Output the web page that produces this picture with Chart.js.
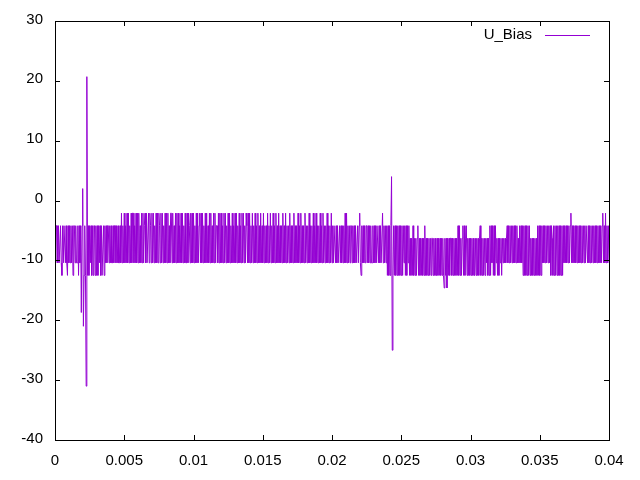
<!DOCTYPE html>
<html>
<head>
<meta charset="utf-8">
<script src="https://cdn.jsdelivr.net/npm/chart.js@4"></script>
<style>
  html, body { margin: 0; padding: 0; background: #fff; }
  #wrap { width: 640px; height: 480px; }
</style>
</head>
<body>
<div id="wrap"><canvas id="chart" width="640" height="480"></canvas></div>
<script>
// sample period of the trace (s)
const dt = 0.00005;
const xTicks = [0, 0.005, 0.01, 0.015, 0.02, 0.025, 0.03, 0.035, 0.04];
const yTicks = [-40, -30, -20, -10, 0, 10, 20, 30];
const seriesLabel = 'U_Bias';
const seriesColor = '#9400d3';

// U_Bias values, 20 samples (= 1 ms) per row
const uBias = [
  -4.2,-10.4,-4.2,-4.2,-10.4,-4.2,-10.4,-10.4,-4.2,-10.4,-12.5,-4.2,-10.4,-4.2,-4.2,-10.4,-4.2,-10.4,-12.5,-4.2,
  -10.4,-4.2,-10.4,-4.2,-10.4,-4.2,-12.5,-4.2,-4.2,-10.4,-4.2,-10.4,-10.4,-4.2,-12.5,-4.2,-10.4,-4.2,-18.7,-4.2,
  2.0,-21.0,-12.5,-4.2,-12.5,-31.0,20.7,-12.5,-4.2,-12.5,-4.2,-10.4,-4.2,-12.5,-4.2,-12.5,-4.2,-4.2,-12.5,-4.2,
  -12.5,-4.2,-12.5,-4.2,-10.4,-4.2,-12.5,-4.2,-12.5,-12.5,-4.2,-12.5,-4.2,-10.4,-4.2,-10.4,-4.2,-4.2,-10.4,-4.2,
  -10.4,-4.2,-10.4,-10.4,-4.2,-10.4,-4.2,-4.2,-10.4,-4.2,-10.4,-4.2,-10.4,-10.4,-4.2,-10.4,-2.1,-10.4,-4.2,-10.4,
  // 0.005 s
  -2.1,-10.4,-4.2,-10.4,-2.1,-10.4,-2.1,-10.4,-4.2,-10.4,-2.1,-10.4,-2.1,-2.1,-10.4,-4.2,-10.4,-2.1,-10.4,-2.1,
  -10.4,-2.1,-10.4,-4.2,-10.4,-2.1,-10.4,-2.1,-10.4,-4.2,-2.1,-10.4,-2.1,-10.4,-10.4,-2.1,-10.4,-2.1,-4.2,-10.4,
  -2.1,-10.4,-2.1,-10.4,-4.2,-10.4,-2.1,-10.4,-2.1,-10.4,-2.1,-4.2,-10.4,-2.1,-10.4,-2.1,-10.4,-4.2,-10.4,-2.1,
  -10.4,-2.1,-10.4,-2.1,-10.4,-4.2,-10.4,-2.1,-2.1,-10.4,-2.1,-10.4,-4.2,-10.4,-2.1,-10.4,-2.1,-10.4,-2.1,-10.4,
  -4.2,-10.4,-2.1,-10.4,-2.1,-10.4,-4.2,-10.4,-2.1,-10.4,-10.4,-2.1,-10.4,-2.1,-4.2,-10.4,-2.1,-10.4,-2.1,-10.4,
  // 0.010 s
  -2.1,-10.4,-4.2,-10.4,-2.1,-10.4,-2.1,-10.4,-4.2,-2.1,-10.4,-2.1,-10.4,-2.1,-10.4,-4.2,-10.4,-2.1,-10.4,-2.1,
  -10.4,-4.2,-10.4,-2.1,-10.4,-2.1,-10.4,-4.2,-10.4,-2.1,-10.4,-2.1,-10.4,-4.2,-4.2,-10.4,-2.1,-10.4,-2.1,-10.4,
  -2.1,-10.4,-4.2,-10.4,-2.1,-10.4,-2.1,-10.4,-4.2,-10.4,-2.1,-10.4,-2.1,-10.4,-4.2,-10.4,-2.1,-10.4,-4.2,-10.4,
  -2.1,-10.4,-2.1,-10.4,-4.2,-10.4,-2.1,-10.4,-4.2,-10.4,-2.1,-10.4,-2.1,-10.4,-4.2,-10.4,-2.1,-4.2,-10.4,-2.1,
  -10.4,-2.1,-10.4,-4.2,-10.4,-2.1,-10.4,-4.2,-10.4,-2.1,-10.4,-4.2,-10.4,-2.1,-10.4,-4.2,-10.4,-2.1,-10.4,-4.2,
  // 0.015 s
  -10.4,-2.1,-10.4,-4.2,-10.4,-4.2,-10.4,-2.1,-10.4,-4.2,-10.4,-2.1,-10.4,-4.2,-10.4,-2.1,-10.4,-4.2,-10.4,-2.1,
  -10.4,-4.2,-10.4,-2.1,-10.4,-4.2,-10.4,-4.2,-10.4,-2.1,-10.4,-4.2,-10.4,-2.1,-10.4,-4.2,-10.4,-4.2,-10.4,-2.1,
  -10.4,-4.2,-10.4,-4.2,-10.4,-2.1,-10.4,-4.2,-10.4,-4.2,-10.4,-2.1,-10.4,-4.2,-10.4,-2.1,-10.4,-4.2,-10.4,-4.2,
  -10.4,-2.1,-10.4,-4.2,-10.4,-4.2,-10.4,-2.1,-10.4,-4.2,-10.4,-4.2,-10.4,-2.1,-10.4,-4.2,-10.4,-2.1,-10.4,-4.2,
  -10.4,-4.2,-10.4,-2.1,-10.4,-4.2,-10.4,-2.1,-10.4,-4.2,-10.4,-4.2,-10.4,-2.1,-10.4,-4.2,-10.4,-4.2,-10.4,-2.1,
  // 0.020 s
  -10.4,-4.2,-10.4,-4.2,-4.2,-10.4,-4.2,-10.4,-4.2,-10.4,-10.4,-4.2,-10.4,-4.2,-10.4,-4.2,-10.4,-4.2,-10.4,-2.1,
  -10.4,-2.1,-10.4,-4.2,-10.4,-4.2,-10.4,-4.2,-4.2,-10.4,-4.2,-10.4,-4.2,-10.4,-4.2,-10.4,-10.4,-4.2,-10.4,-4.2,
  -2.1,-10.4,-12.5,-4.2,-10.4,-4.2,-10.4,-4.2,-10.4,-4.2,-4.2,-10.4,-4.2,-10.4,-4.2,-10.4,-4.2,-10.4,-10.4,-4.2,
  -10.4,-4.2,-10.4,-4.2,-10.4,-4.2,-4.2,-10.4,-4.2,-10.4,-4.2,-10.4,-10.4,-2.1,-10.4,-4.2,-10.4,-4.2,-10.4,-4.2,
  -12.5,-4.2,-12.5,-4.2,-12.5,-4.2,4.0,-25.0,-12.5,-4.2,-12.5,-4.2,-12.5,-4.2,-12.5,-4.2,-12.5,-4.2,-12.5,-4.2,
  // 0.025 s
  -12.5,-4.2,-12.5,-4.2,-10.4,-4.2,-12.5,-4.2,-12.5,-4.2,-10.4,-4.2,-12.5,-6.3,-12.5,-6.3,-12.5,-4.2,-12.5,-6.3,
  -12.5,-6.3,-12.5,-6.3,-4.2,-12.5,-6.3,-12.5,-6.3,-12.5,-6.3,-12.5,-6.3,-12.5,-4.2,-12.5,-6.3,-12.5,-6.3,-12.5,
  -6.3,-12.5,-6.3,-12.5,-6.3,-6.3,-12.5,-6.3,-12.5,-6.3,-12.5,-12.5,-6.3,-12.5,-6.3,-12.5,-6.3,-12.5,-6.3,-12.5,
  -6.3,-12.5,-14.6,-6.3,-12.5,-6.3,-14.6,-6.3,-12.5,-6.3,-12.5,-6.3,-6.3,-12.5,-6.3,-12.5,-6.3,-12.5,-6.3,-12.5,
  -6.3,-12.5,-4.2,-12.5,-4.2,-12.5,-6.3,-12.5,-6.3,-4.2,-12.5,-4.2,-12.5,-6.3,-4.2,-12.5,-6.3,-12.5,-6.3,-12.5,
  // 0.030 s
  -6.3,-12.5,-6.3,-12.5,-6.3,-12.5,-12.5,-6.3,-12.5,-6.3,-12.5,-6.3,-12.5,-6.3,-4.2,-12.5,-6.3,-12.5,-6.3,-12.5,
  -6.3,-12.5,-6.3,-10.4,-6.3,-12.5,-6.3,-12.5,-4.2,-12.5,-4.2,-10.4,-4.2,-12.5,-4.2,-12.5,-4.2,-10.4,-6.3,-12.5,
  -6.3,-12.5,-6.3,-10.4,-6.3,-12.5,-6.3,-10.4,-6.3,-10.4,-6.3,-10.4,-6.3,-4.2,-10.4,-4.2,-10.4,-4.2,-10.4,-4.2,
  -10.4,-4.2,-10.4,-4.2,-10.4,-4.2,-10.4,-4.2,-10.4,-6.3,-10.4,-4.2,-10.4,-4.2,-10.4,-4.2,-12.5,-4.2,-12.5,-4.2,
  -12.5,-4.2,-12.5,-4.2,-12.5,-4.2,-12.5,-6.3,-12.5,-6.3,-12.5,-6.3,-12.5,-6.3,-12.5,-6.3,-12.5,-4.2,-12.5,-4.2,
  // 0.035 s
  -12.5,-4.2,-12.5,-4.2,-10.4,-4.2,-10.4,-4.2,-10.4,-4.2,-10.4,-4.2,-10.4,-4.2,-10.4,-4.2,-12.5,-4.2,-6.3,-12.5,
  -4.2,-12.5,-4.2,-12.5,-4.2,-12.5,-4.2,-12.5,-4.2,-12.5,-4.2,-12.5,-4.2,-12.5,-4.2,-10.4,-4.2,-10.4,-4.2,-10.4,
  -4.2,-10.4,-4.2,-10.4,-4.2,-2.1,-10.4,-4.2,-10.4,-4.2,-10.4,-4.2,-10.4,-4.2,-10.4,-4.2,-10.4,-4.2,-10.4,-4.2,
  -10.4,-4.2,-10.4,-4.2,-10.4,-4.2,-10.4,-4.2,-4.2,-10.4,-4.2,-10.4,-4.2,-10.4,-4.2,-10.4,-4.2,-10.4,-4.2,-10.4,
  -4.2,-10.4,-4.2,-10.4,-4.2,-10.4,-4.2,-10.4,-4.2,-10.4,-4.2,-2.1,-10.4,-4.2,-10.4,-2.1,-10.4,-4.2,-10.4,-4.2,
  -10.4
];

const points = uBias.map((v, i) => ({ x: i * dt, y: v }));
const fontFamily = '"Liberation Sans", Arial, sans-serif';
const fontSize = 15;

// gnuplot-like frame: full border box, inward ticks mirrored on all sides, key inside top right
const gnuFrame = {
  id: 'gnuFrame',
  afterDatasetsDraw(chart) {
    const { ctx, chartArea: a, scales } = chart;
    const tl = 5;
    ctx.save();
    ctx.strokeStyle = '#000';
    ctx.lineWidth = 1;
    ctx.beginPath();
    xTicks.forEach(v => {
      const px = Math.round(scales.x.getPixelForValue(v)) + 0.5;
      ctx.moveTo(px, a.bottom); ctx.lineTo(px, a.bottom - tl);
      ctx.moveTo(px, a.top); ctx.lineTo(px, a.top + tl);
    });
    yTicks.forEach(v => {
      const py = Math.round(scales.y.getPixelForValue(v)) + 0.5;
      ctx.moveTo(a.left, py); ctx.lineTo(a.left + tl, py);
      ctx.moveTo(a.right, py); ctx.lineTo(a.right - tl, py);
    });
    ctx.stroke();
    ctx.strokeRect(Math.round(a.left) + 0.5, Math.round(a.top) + 0.5,
                   Math.round(a.right - a.left), Math.round(a.bottom - a.top));

    // key
    const ky = a.top + 14;
    ctx.font = fontSize + 'px ' + fontFamily;
    ctx.fillStyle = '#000';
    ctx.textAlign = 'right';
    ctx.textBaseline = 'middle';
    ctx.fillText(seriesLabel, a.right - 77, ky);
    ctx.strokeStyle = seriesColor;
    ctx.beginPath();
    ctx.moveTo(a.right - 64, ky + 0.5);
    ctx.lineTo(a.right - 19, ky + 0.5);
    ctx.stroke();
    ctx.restore();
  }
};

new Chart(document.getElementById('chart'), {
  type: 'line',
  data: {
    datasets: [{
      label: seriesLabel,
      data: points,
      borderColor: seriesColor,
      borderWidth: 1,
      pointRadius: 0,
      tension: 0,
      fill: false
    }]
  },
  options: {
    responsive: false,
    animation: false,
    layout: { padding: { top: 18, right: 31, left: 0, bottom: 0 } },
    plugins: { legend: { display: false }, tooltip: { enabled: false } },
    scales: {
      x: {
        type: 'linear',
        min: 0,
        max: 0.04,
        afterBuildTicks: s => { s.ticks = xTicks.map(v => ({ value: v })); },
        afterFit: s => { s.height = 40; },
        grid: { display: false, drawTicks: false },
        border: { display: false },
        ticks: {
          padding: 12,
          maxRotation: 0,
          color: '#000',
          font: { family: fontFamily, size: fontSize },
          callback: v => String(Number(v.toFixed(3)))
        }
      },
      y: {
        min: -40,
        max: 30,
        afterBuildTicks: s => { s.ticks = yTicks.map(v => ({ value: v })); },
        afterFit: s => { s.width = 55; },
        grid: { display: false, drawTicks: false },
        border: { display: false },
        ticks: {
          padding: 12,
          labelOffset: -1.5,
          color: '#000',
          font: { family: fontFamily, size: fontSize }
        }
      }
    }
  },
  plugins: [gnuFrame]
});
</script>
</body>
</html>
